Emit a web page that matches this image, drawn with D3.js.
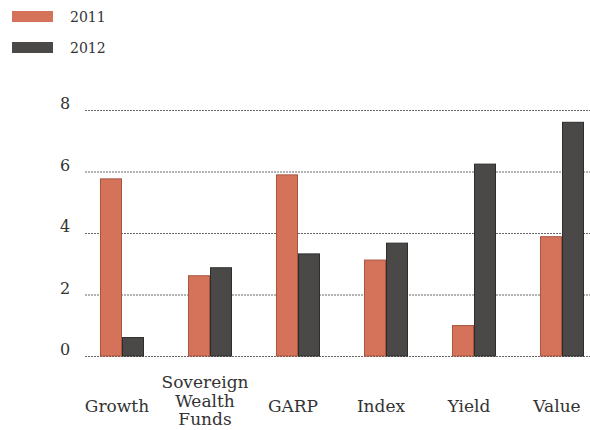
<!DOCTYPE html>
<html><head><meta charset="utf-8">
<script src="https://cdn.jsdelivr.net/npm/d3@7"></script>
<style>body{margin:0;background:#fff}svg{display:block}</style>
</head><body>
<svg id="c" width="590" height="430"></svg>
<script>
const categories = ["Growth", "Sovereign Wealth Funds", "GARP", "Index", "Yield", "Value"];
const categoryLines = [["Growth"], ["Sovereign", "Wealth", "Funds"], ["GARP"], ["Index"], ["Yield"], ["Value"]];
const seriesNames = ["2011", "2012"];
const values2011 = [5.76, 2.61, 5.89, 3.12, 0.99, 3.88];
const values2012 = [0.6, 2.87, 3.32, 3.67, 6.24, 7.6];
const yTicks = [0, 2, 4, 6, 8];
const colors = ["#d4735a", "#4a4947"];
const strokes = ["#a85540", "#2e2d2b"];

const svg = d3.select("#c");
const font = "'DejaVu Serif', 'Liberation Serif', serif";
const x = d3.scaleBand().domain(categories).range([78, 606]).paddingInner(0.5).paddingOuter(0.25);
const xs = d3.scaleBand().domain(seriesNames).range([0, x.bandwidth()]);
const y = d3.scaleLinear().domain([0, 8]).range([356, 110]);

svg.append("g").selectAll("line").data(yTicks).join("line")
  .attr("x1", 85).attr("x2", 590)
  .attr("y1", d => y(d) + 0.5).attr("y2", d => y(d) + 0.5)
  .attr("stroke", "#666").attr("stroke-width", 1).attr("stroke-dasharray", "2,1");

svg.append("g").selectAll("text").data(yTicks).join("text")
  .attr("x", 65).attr("y", d => y(d) - 1)
  .attr("text-anchor", "middle").attr("font-family", font).attr("font-size", 16)
  .attr("fill", "#333").text(d => d);

const series = [values2011, values2012];
series.forEach((vals, si) => {
  svg.append("g").selectAll("rect").data(categories).join("rect")
    .attr("x", (c) => x(c) + xs(seriesNames[si]) + 0.5)
    .attr("y", (c, i) => y(vals[i]))
    .attr("width", xs.bandwidth() - 1)
    .attr("height", (c, i) => y(0) - y(vals[i]))
    .attr("fill", colors[si]).attr("stroke", strokes[si]).attr("stroke-width", 1);
});

const lab = svg.append("g");
categories.forEach((c, i) => {
  const lines = categoryLines[i];
  const cx = x(c) + x.bandwidth() / 2 - 5;
  const base = lines.length === 1 ? 412 : 388;
  lines.forEach((ln, j) => {
    lab.append("text").attr("x", cx).attr("y", base + j * 18.5)
      .attr("text-anchor", "middle").attr("font-family", font).attr("font-size", 17)
      .attr("fill", "#333").text(ln);
  });
});

const leg = svg.append("g");
seriesNames.forEach((s, i) => {
  leg.append("rect").attr("x", 12).attr("y", 11 + i * 31).attr("width", 41).attr("height", 11)
    .attr("fill", colors[i]);
  leg.append("text").attr("x", 70).attr("y", 22 + i * 31)
    .attr("font-family", font).attr("font-size", 14).attr("fill", "#333").text(s);
});
</script>
</body></html>
